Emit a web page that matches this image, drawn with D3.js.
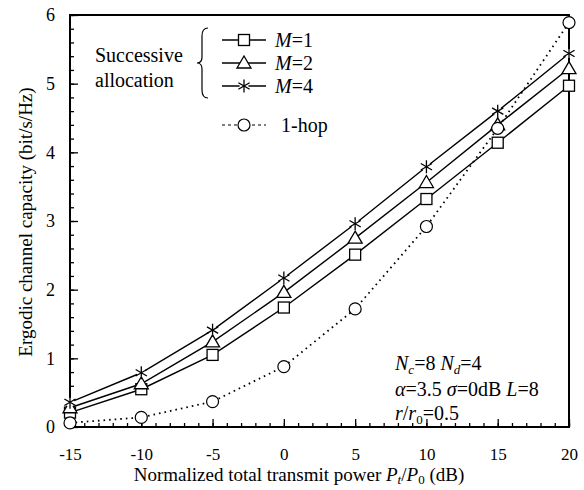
<!DOCTYPE html>
<html>
<head>
<meta charset="utf-8">
<script src="https://cdn.jsdelivr.net/npm/d3@7"></script>
<style>
  body { margin: 0; background: #fff; }
  svg text { font-family: "Liberation Serif", Tinos, "DejaVu Serif", Times, serif !important; fill: #000; }
</style>
</head>
<body>
<svg id="chart"></svg>
<script>
// data
var powerDb = [-15, -10, -5, 0, 5, 10, 15, 20];
var capM1 = [0.21, 0.55, 1.05, 1.74, 2.51, 3.32, 4.14, 4.97];
var capM2 = [0.28, 0.63, 1.24, 1.96, 2.75, 3.56, 4.40, 5.22];
var capM4 = [0.36, 0.79, 1.41, 2.17, 2.96, 3.79, 4.60, 5.44];
var capHop = [0.06, 0.14, 0.37, 0.88, 1.72, 2.92, 4.35, 5.89];
var xTicks = [-15, -10, -5, 0, 5, 10, 15, 20];
var yTicks = [0, 1, 2, 3, 4, 5, 6];

var margin = { top: 15, right: 15, bottom: 63, left: 70 },
  width = 584 - margin.left - margin.right,
  height = 490 - margin.top - margin.bottom;

var svg = d3.select("#chart")
  .attr("width", width + margin.left + margin.right)
  .attr("height", height + margin.top + margin.bottom)
  .attr("font-family", "Liberation Serif")
  .append("g")
  .attr("transform", "translate(" + margin.left + "," + margin.top + ")");

var x = d3.scaleLinear().domain([-15, 20]).range([0, width]);
var y = d3.scaleLinear().domain([0, 6]).range([height, 0]);

// minor ticks
svg.append("g")
  .attr("transform", "translate(0," + height + ")")
  .call(d3.axisBottom(x).tickValues(d3.range(-15, 21, 1)).tickSize(-4).tickFormat(""))
  .call(function (g) { g.select(".domain").remove(); });
svg.append("g")
  .call(d3.axisLeft(y).tickValues(d3.range(0, 6.01, 0.2)).tickSize(-4).tickFormat(""))
  .call(function (g) { g.select(".domain").remove(); });

// major ticks + labels
var xAxis = svg.append("g")
  .attr("transform", "translate(0," + height + ")")
  .call(d3.axisBottom(x).tickValues(xTicks).tickSizeInner(-8).tickSizeOuter(0).tickPadding(21)
    .tickFormat(function (d) { return String(d); }));
xAxis.select(".domain").remove();
xAxis.selectAll("text").style("font-size", "17px");

var yAxis = svg.append("g")
  .call(d3.axisLeft(y).tickValues(yTicks).tickSizeInner(-8).tickSizeOuter(0).tickPadding(15)
    .tickFormat(function (d) { return String(d); }));
yAxis.select(".domain").remove();
yAxis.selectAll("text").style("font-size", "18px");
svg.selectAll("g").attr("font-family", null);
svg.selectAll(".tick line").attr("stroke", "#000").attr("stroke-width", 1.3);

// frame
svg.append("rect")
  .attr("x", 0).attr("y", 0)
  .attr("width", width).attr("height", height)
  .attr("fill", "none").attr("stroke", "#000").attr("stroke-width", 2);

// axis titles
var xt = svg.append("text")
  .attr("x", 229).attr("y", height + 54)
  .attr("text-anchor", "middle").style("font-size", "19px");
xt.append("tspan").text("Normalized total transmit power ");
xt.append("tspan").style("font-style", "italic").text("P");
xt.append("tspan").attr("dy", 3).style("font-size", "13px").style("font-style", "italic").text("t");
xt.append("tspan").attr("dy", -3).text("/");
xt.append("tspan").style("font-style", "italic").text("P");
xt.append("tspan").attr("dy", 3).style("font-size", "13px").text("0");
xt.append("tspan").attr("dy", -3).text(" (dB)");

svg.append("text")
  .attr("transform", "rotate(-90)")
  .attr("x", -207).attr("y", -38)
  .attr("text-anchor", "middle")
  .style("font-size", "19px")
  .text("Ergodic channel capacity (bit/s/Hz)");

// series
var series = [
  { name: "M1", values: capM1, marker: "square", dash: null },
  { name: "M2", values: capM2, marker: "triangle", dash: null },
  { name: "M4", values: capM4, marker: "star", dash: null },
  { name: "hop", values: capHop, marker: "circle", dash: "1.6,4" }
];

var line = d3.line()
  .x(function (d) { return x(d[0]); })
  .y(function (d) { return y(d[1]); });

function drawMarker(g, type, cx, cy) {
  if (type === "square") {
    g.append("rect").attr("x", cx - 5.5).attr("y", cy - 5.5).attr("width", 11).attr("height", 11)
      .attr("fill", "#fff").attr("stroke", "#000").attr("stroke-width", 1.3);
  } else if (type === "triangle") {
    g.append("path")
      .attr("d", "M" + cx + "," + (cy - 7) + "L" + (cx + 7) + "," + (cy + 5) + "L" + (cx - 7) + "," + (cy + 5) + "Z")
      .attr("fill", "#fff").attr("stroke", "#000").attr("stroke-width", 1.3);
  } else if (type === "circle") {
    g.append("circle").attr("cx", cx).attr("cy", cy).attr("r", 6)
      .attr("fill", "#fff").attr("stroke", "#000").attr("stroke-width", 1.2);
  } else if (type === "star") {
    g.append("circle").attr("cx", cx).attr("cy", cy).attr("r", 4.5).attr("fill", "#fff");
    [90, 30, 150].forEach(function (a) {
      var r = a * Math.PI / 180, dx = 6.5 * Math.cos(r), dy = 6.5 * Math.sin(r);
      g.append("line")
        .attr("x1", cx - dx).attr("y1", cy - dy).attr("x2", cx + dx).attr("y2", cy + dy)
        .attr("stroke", "#000").attr("stroke-width", 1.3);
    });
  }
}

series.forEach(function (s) {
  var pts = powerDb.map(function (p, i) { return [p, s.values[i]]; });
  svg.append("path")
    .datum(pts)
    .attr("d", line)
    .attr("fill", "none")
    .attr("stroke", "#000")
    .attr("stroke-width", s.dash ? 1.8 : 1.4)
    .attr("stroke-dasharray", s.dash);
});
series.forEach(function (s) {
  var g = svg.append("g");
  powerDb.forEach(function (p, i) { drawMarker(g, s.marker, x(p), y(s.values[i])); });
});

// legend
var lg = svg.append("g");
lg.append("text").attr("x", 25).attr("y", 47).style("font-size", "20px").text("Successive");
lg.append("text").attr("x", 25).attr("y", 72).style("font-size", "20px").text("allocation");
// brace
var bx = 132, by0 = 13, by1 = 83, bm = (by0 + by1) / 2;
lg.append("path")
  .attr("d", "M" + (bx + 6) + "," + by0 +
    " Q" + bx + "," + by0 + " " + bx + "," + (by0 + 8) +
    " L" + bx + "," + (bm - 6) +
    " Q" + bx + "," + bm + " " + (bx - 5) + "," + bm +
    " Q" + bx + "," + bm + " " + bx + "," + (bm + 6) +
    " L" + bx + "," + (by1 - 8) +
    " Q" + bx + "," + by1 + " " + (bx + 6) + "," + by1)
  .attr("fill", "none").attr("stroke", "#000").attr("stroke-width", 1.2);

var legendRows = [
  { marker: "square", label: "1", y: 25 },
  { marker: "triangle", label: "2", y: 48 },
  { marker: "star", label: "4", y: 71 }
];
legendRows.forEach(function (r) {
  lg.append("line").attr("x1", 152).attr("x2", 196).attr("y1", r.y).attr("y2", r.y)
    .attr("stroke", "#000").attr("stroke-width", 1.4);
  drawMarker(lg, r.marker, 174, r.y);
  var t = lg.append("text").attr("x", 205).attr("y", r.y + 7).style("font-size", "20px");
  t.append("tspan").style("font-style", "italic").text("M");
  t.append("tspan").text("=" + r.label);
});
lg.append("line").attr("x1", 152).attr("x2", 196).attr("y1", 110).attr("y2", 110)
  .attr("stroke", "#000").attr("stroke-width", 1.2).attr("stroke-dasharray", "3,3");
drawMarker(lg, "circle", 174, 110);
lg.append("text").attr("x", 211).attr("y", 117).style("font-size", "20px").text("1-hop");

// parameter note
var note = svg.append("g").style("font-size", "20px");
var n1 = note.append("text").attr("x", 325).attr("y", 355);
n1.append("tspan").style("font-style", "italic").text("N");
n1.append("tspan").attr("dy", 4).style("font-size", "13px").style("font-style", "italic").text("c");
n1.append("tspan").attr("dy", -4).text("=8 ");
n1.append("tspan").style("font-style", "italic").text("N");
n1.append("tspan").attr("dy", 4).style("font-size", "13px").style("font-style", "italic").text("d");
n1.append("tspan").attr("dy", -4).text("=4");
var n2 = note.append("text").attr("x", 325).attr("y", 381);
n2.append("tspan").style("font-style", "italic").text("α");
n2.append("tspan").text("=3.5 ");
n2.append("tspan").style("font-style", "italic").text("σ");
n2.append("tspan").text("=0dB ");
n2.append("tspan").style("font-style", "italic").text("L");
n2.append("tspan").text("=8");
var n3 = note.append("text").attr("x", 325).attr("y", 405);
n3.append("tspan").style("font-style", "italic").text("r");
n3.append("tspan").text("/");
n3.append("tspan").style("font-style", "italic").text("r");
n3.append("tspan").attr("dy", 4).style("font-size", "13px").text("0");
n3.append("tspan").attr("dy", -4).text("=0.5");
</script>
</body>
</html>
